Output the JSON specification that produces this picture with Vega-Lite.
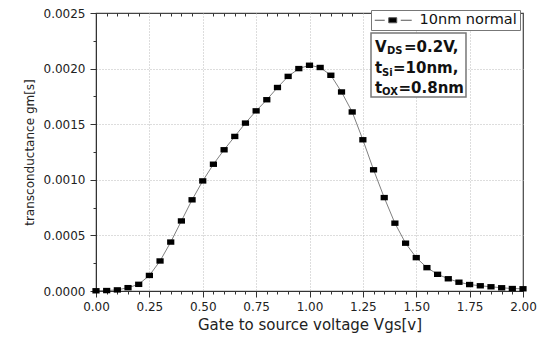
{
  "$schema": "https://vega.github.io/schema/vega-lite/v6.json",
  "autosize": {"type": "none"},
  "padding": {"left": 96, "top": 13, "right": 24, "bottom": 49},
  "width": 427,
  "height": 278,
  "background": "white",
  "config": {
    "font": "DejaVu Sans",
    "view": {"stroke": "#444", "strokeWidth": 1.2},
    "axis": {"labelFont": "DejaVu Sans", "titleFont": "DejaVu Sans", "labelColor": "#222", "titleColor": "#222", "titleFontWeight": "normal", "domainColor": "#333", "tickColor": "#333"},
    "axisY": {
      "title": "transconductance gm[s]",
      "titleFontSize": 12,
      "titlePadding": 7,
      "labelFontSize": 12,
      "labelPadding": 5,
      "labelOverlap": false,
      "grid": true,
      "gridColor": "#bbbbbb",
      "gridDash": [1, 2]
    }
  },
  "datasets": {
    "curve": [
      {"v": 0.00, "gm": 0.000002, "series": "10nm normal"},
      {"v": 0.05, "gm": 0.000004, "series": "10nm normal"},
      {"v": 0.10, "gm": 0.00001, "series": "10nm normal"},
      {"v": 0.15, "gm": 0.00003, "series": "10nm normal"},
      {"v": 0.20, "gm": 0.00006, "series": "10nm normal"},
      {"v": 0.25, "gm": 0.00014, "series": "10nm normal"},
      {"v": 0.30, "gm": 0.00027, "series": "10nm normal"},
      {"v": 0.35, "gm": 0.00044, "series": "10nm normal"},
      {"v": 0.40, "gm": 0.00063, "series": "10nm normal"},
      {"v": 0.45, "gm": 0.00082, "series": "10nm normal"},
      {"v": 0.50, "gm": 0.00099, "series": "10nm normal"},
      {"v": 0.55, "gm": 0.00114, "series": "10nm normal"},
      {"v": 0.60, "gm": 0.00127, "series": "10nm normal"},
      {"v": 0.65, "gm": 0.00139, "series": "10nm normal"},
      {"v": 0.70, "gm": 0.00151, "series": "10nm normal"},
      {"v": 0.75, "gm": 0.00162, "series": "10nm normal"},
      {"v": 0.80, "gm": 0.00172, "series": "10nm normal"},
      {"v": 0.85, "gm": 0.00183, "series": "10nm normal"},
      {"v": 0.90, "gm": 0.00193, "series": "10nm normal"},
      {"v": 0.95, "gm": 0.00200, "series": "10nm normal"},
      {"v": 1.00, "gm": 0.00203, "series": "10nm normal"},
      {"v": 1.05, "gm": 0.00201, "series": "10nm normal"},
      {"v": 1.10, "gm": 0.00194, "series": "10nm normal"},
      {"v": 1.15, "gm": 0.00179, "series": "10nm normal"},
      {"v": 1.20, "gm": 0.00161, "series": "10nm normal"},
      {"v": 1.25, "gm": 0.00136, "series": "10nm normal"},
      {"v": 1.30, "gm": 0.00109, "series": "10nm normal"},
      {"v": 1.35, "gm": 0.00084, "series": "10nm normal"},
      {"v": 1.40, "gm": 0.00061, "series": "10nm normal"},
      {"v": 1.45, "gm": 0.00043, "series": "10nm normal"},
      {"v": 1.50, "gm": 0.00030, "series": "10nm normal"},
      {"v": 1.55, "gm": 0.00021, "series": "10nm normal"},
      {"v": 1.60, "gm": 0.00015, "series": "10nm normal"},
      {"v": 1.65, "gm": 0.00011, "series": "10nm normal"},
      {"v": 1.70, "gm": 0.000079, "series": "10nm normal"},
      {"v": 1.75, "gm": 0.000058, "series": "10nm normal"},
      {"v": 1.80, "gm": 0.000047, "series": "10nm normal"},
      {"v": 1.85, "gm": 0.000038, "series": "10nm normal"},
      {"v": 1.90, "gm": 0.000029, "series": "10nm normal"},
      {"v": 1.95, "gm": 0.000022, "series": "10nm normal"},
      {"v": 2.00, "gm": 0.00002, "series": "10nm normal"}
    ],
    "box": [{"x1": 1.2881, "x2": 1.733, "y1": 0.00232, "y2": 0.001745}],
    "main": [
      {"x": 1.3068, "y": 0.002149, "text": "V"},
      {"x": 1.4426, "y": 0.002149, "text": "=0.2V,"},
      {"x": 1.3068, "y": 0.001956, "text": "t"},
      {"x": 1.3911, "y": 0.001956, "text": "=10nm,"},
      {"x": 1.3068, "y": 0.001785, "text": "t"},
      {"x": 1.4169, "y": 0.001785, "text": "=0.8nm"}
    ],
    "sub": [
      {"x": 1.3630, "y": 0.002127, "text": "DS"},
      {"x": 1.3396, "y": 0.001929, "text": "Si"},
      {"x": 1.3396, "y": 0.001763, "text": "OX"}
    ]
  },
  "resolve": {"axis": {"x": "independent"}},
  "layer": [
    {
      "data": {"name": "box"},
      "mark": {"type": "rect", "fill": "white", "stroke": "#777", "strokeWidth": 1.5},
      "encoding": {
        "x": {"field": "x1", "type": "quantitative", "scale": {"domain": [0, 2], "nice": false}, "axis": null},
        "x2": {"field": "x2"},
        "y": {"field": "y1", "type": "quantitative", "scale": {"domain": [0, 0.0025], "nice": false},
          "axis": {"orient": "left", "title": "transconductance gm[s]", "labelPadding": 5, "values": [0,0.00025,0.0005,0.00075,0.001,0.00125,0.0015,0.00175,0.002,0.00225,0.0025], "labelExpr": "abs(datum.value*2000 - round(datum.value*2000)) < 0.001 ? format(datum.value, '.4f') : ''", "tickSize": {"condition": {"test": "abs(datum.value*2000 - round(datum.value*2000)) < 0.001", "value": 6}, "value": 3}, "gridOpacity": {"condition": {"test": "abs(datum.value*2000 - round(datum.value*2000)) < 0.001 && datum.value > 0.0001 && datum.value < 0.0024", "value": 1}, "value": 0}}},
        "y2": {"field": "y2"}
      }
    },
    {
      "data": {"name": "curve"},
      "mark": {"type": "line", "color": "#808080", "strokeWidth": 1},
      "encoding": {
        "x": {
          "field": "v", "type": "quantitative",
          "scale": {"domain": [0, 2], "nice": false},
          "axis": {
            "orient": "bottom",
            "title": "Gate to source voltage Vgs[v]",
            "titleFontSize": 15,
            "titlePadding": 5,
            "values": [0,0.05,0.1,0.15,0.2,0.25,0.3,0.35,0.4,0.45,0.5,0.55,0.6,0.65,0.7,0.75,0.8,0.85,0.9,0.95,1,1.05,1.1,1.15,1.2,1.25,1.3,1.35,1.4,1.45,1.5,1.55,1.6,1.65,1.7,1.75,1.8,1.85,1.9,1.95,2],
            "labelExpr": "abs(datum.value*4 - round(datum.value*4)) < 0.001 ? format(datum.value, '.2f') : ''",
            "labelFontSize": 12,
            "labelPadding": 4,
            "labelFlush": false,
            "labelOverlap": false,
            "tickSize": {"condition": {"test": "abs(datum.value*4 - round(datum.value*4)) < 0.001", "value": 6}, "value": 3},
            "grid": true,
            "gridColor": "#bbbbbb",
            "gridDash": [1, 2],
            "gridOpacity": {"condition": {"test": "abs(datum.value*4 - round(datum.value*4)) < 0.001 && datum.value > 0.01 && datum.value < 1.99", "value": 1}, "value": 0}
          }
        },
        "y": {"field": "gm", "type": "quantitative", "scale": {"domain": [0, 0.0025], "nice": false},
          "axis": {"orient": "left", "title": "transconductance gm[s]", "labelPadding": 5, "values": [0,0.00025,0.0005,0.00075,0.001,0.00125,0.0015,0.00175,0.002,0.00225,0.0025], "labelExpr": "abs(datum.value*2000 - round(datum.value*2000)) < 0.001 ? format(datum.value, '.4f') : ''", "tickSize": {"condition": {"test": "abs(datum.value*2000 - round(datum.value*2000)) < 0.001", "value": 6}, "value": 3}, "gridOpacity": {"condition": {"test": "abs(datum.value*2000 - round(datum.value*2000)) < 0.001 && datum.value > 0.0001 && datum.value < 0.0024", "value": 1}, "value": 0}}}
      }
    },
    {
      "data": {"name": "curve"},
      "mark": {"type": "point", "shape": "M-1,-0.75H1V0.75H-1Z", "size": 52, "filled": true, "opacity": 1},
      "encoding": {
        "x": {
          "field": "v", "type": "quantitative",
          "scale": {"domain": [0, 2], "nice": false},
          "axis": {
            "orient": "top",
            "title": null,
            "labels": false,
            "domain": false,
            "grid": false,
            "ticks": true,
            "tickColor": "#333",
            "tickOpacity": 1,
            "tickWidth": 1,
            "values": [0.05,0.1,0.15,0.2,0.3,0.35,0.4,0.45,0.55,0.6,0.65,0.7,0.8,0.85,0.9,0.95,1.05,1.1,1.15,1.2,1.3,1.35,1.4,1.45,1.55,1.6,1.65,1.7,1.8,1.85,1.9,1.95],
            "tickSize": 3,
            "offset": -3
          }
        },
        "y": {"field": "gm", "type": "quantitative", "scale": {"domain": [0, 0.0025], "nice": false},
          "axis": {"orient": "left", "title": "transconductance gm[s]", "labelPadding": 5, "values": [0,0.00025,0.0005,0.00075,0.001,0.00125,0.0015,0.00175,0.002,0.00225,0.0025], "labelExpr": "abs(datum.value*2000 - round(datum.value*2000)) < 0.001 ? format(datum.value, '.4f') : ''", "tickSize": {"condition": {"test": "abs(datum.value*2000 - round(datum.value*2000)) < 0.001", "value": 6}, "value": 3}, "gridOpacity": {"condition": {"test": "abs(datum.value*2000 - round(datum.value*2000)) < 0.001 && datum.value > 0.0001 && datum.value < 0.0024", "value": 1}, "value": 0}}},
        "color": {
          "field": "series", "type": "nominal",
          "scale": {"range": ["#000000"]},
          "legend": {
            "title": null,
            "orient": "none",
            "legendX": 275,
            "legendY": -3,
            "padding": 3,
            "strokeColor": "#777",
            "fillColor": "white",
            "symbolType": "M-1.08,0H0.58M1.25,-0.42H2.58V0.42H1.25ZM3.25,0H5.08",
            "symbolSize": 144,
            "symbolStrokeWidth": 1,
            "symbolStrokeColor": "#555",
            "symbolFillColor": "#000",
            "labelFont": "DejaVu Sans",
            "labelFontSize": 14.5,
            "labelColor": "#111",
            "labelOffset": 31,
            "labelLimit": 300
          }
        }
      }
    },
    {
      "data": {"name": "main"},
      "mark": {"type": "text", "font": "DejaVu Sans", "fontWeight": "bold", "fontSize": 15, "align": "left", "baseline": "alphabetic", "color": "#111"},
      "encoding": {
        "x": {"field": "x", "type": "quantitative", "scale": {"domain": [0, 2], "nice": false}, "axis": null},
        "y": {"field": "y", "type": "quantitative", "scale": {"domain": [0, 0.0025], "nice": false},
          "axis": {"orient": "left", "title": "transconductance gm[s]", "labelPadding": 5, "values": [0,0.00025,0.0005,0.00075,0.001,0.00125,0.0015,0.00175,0.002,0.00225,0.0025], "labelExpr": "abs(datum.value*2000 - round(datum.value*2000)) < 0.001 ? format(datum.value, '.4f') : ''", "tickSize": {"condition": {"test": "abs(datum.value*2000 - round(datum.value*2000)) < 0.001", "value": 6}, "value": 3}, "gridOpacity": {"condition": {"test": "abs(datum.value*2000 - round(datum.value*2000)) < 0.001 && datum.value > 0.0001 && datum.value < 0.0024", "value": 1}, "value": 0}}},
        "text": {"field": "text"}
      }
    },
    {
      "data": {"name": "sub"},
      "mark": {"type": "text", "font": "DejaVu Sans", "fontWeight": "bold", "fontSize": 10, "align": "left", "baseline": "alphabetic", "color": "#111"},
      "encoding": {
        "x": {"field": "x", "type": "quantitative", "scale": {"domain": [0, 2], "nice": false}, "axis": null},
        "y": {"field": "y", "type": "quantitative", "scale": {"domain": [0, 0.0025], "nice": false},
          "axis": {"orient": "left", "title": "transconductance gm[s]", "labelPadding": 5, "values": [0,0.00025,0.0005,0.00075,0.001,0.00125,0.0015,0.00175,0.002,0.00225,0.0025], "labelExpr": "abs(datum.value*2000 - round(datum.value*2000)) < 0.001 ? format(datum.value, '.4f') : ''", "tickSize": {"condition": {"test": "abs(datum.value*2000 - round(datum.value*2000)) < 0.001", "value": 6}, "value": 3}, "gridOpacity": {"condition": {"test": "abs(datum.value*2000 - round(datum.value*2000)) < 0.001 && datum.value > 0.0001 && datum.value < 0.0024", "value": 1}, "value": 0}}},
        "text": {"field": "text"}
      }
    }
  ]
}
